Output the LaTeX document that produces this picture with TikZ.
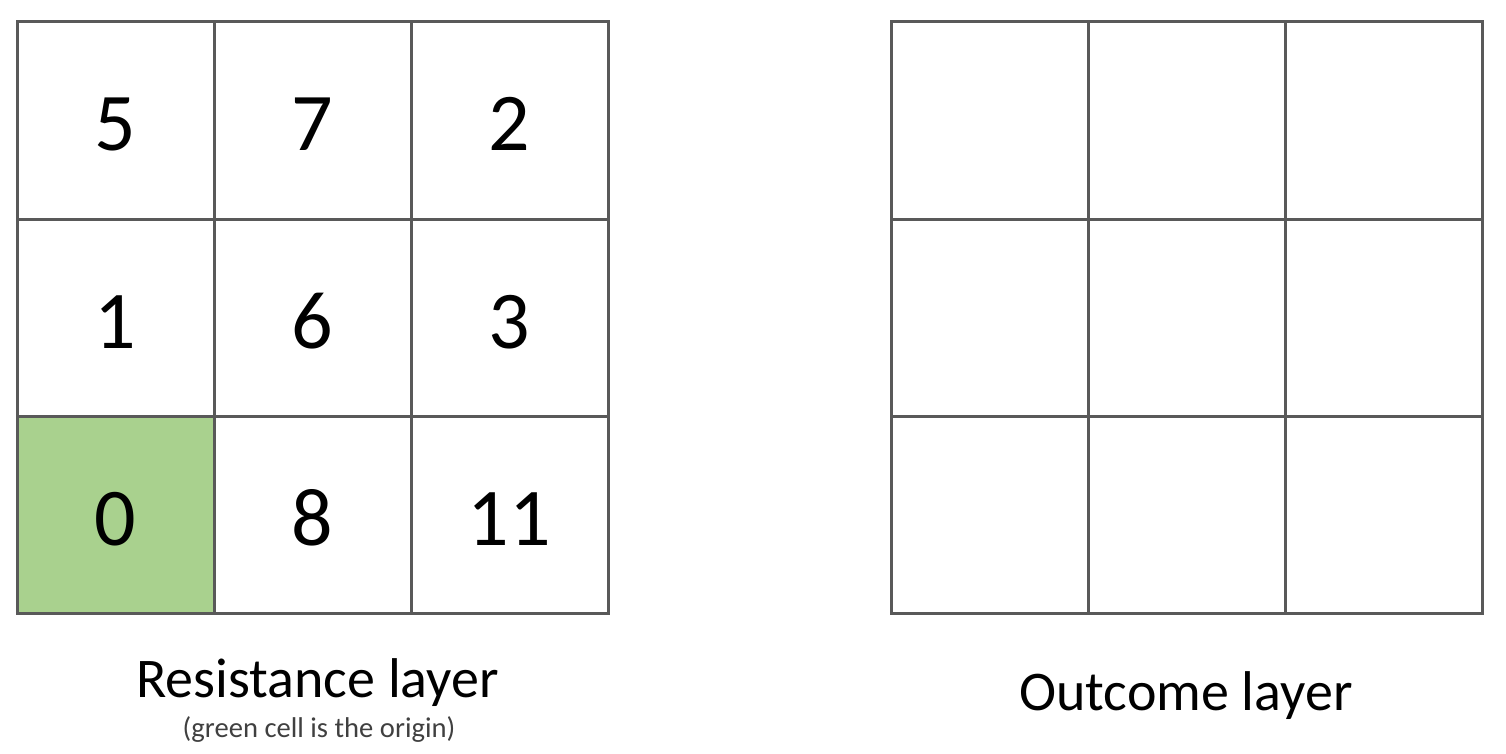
\documentclass[tikz,border=0pt]{standalone}
\usepackage{fontspec}
\setmainfont{Carlito}
\usetikzlibrary{positioning}
\definecolor{gridgray}{HTML}{595959}
\definecolor{origingreen}{HTML}{A9D18E}
\definecolor{notegray}{HTML}{404040}

\begin{document}
\begin{tikzpicture}[x=1pt, y=-1pt,
  cell/.style={draw=gridgray, line width=3pt, minimum size=197pt, inner sep=0pt,
    text height=61pt, text depth=0pt, font=\fontsize{82}{98}\selectfont},
  title/.style={anchor=base, font=\fontsize{56}{67}\selectfont},
  note/.style={anchor=base, text=notegray, font=\fontsize{28.6}{34}\selectfont}]
\useasboundingbox (0,0) rectangle (1506,754);

% resistance layer, green cell is the origin
\foreach \v/\f [count=\k from 0] in {5/white,7/white,2/white,1/white,6/white,3/white,0/origingreen,8/white,11/white}{
  \pgfmathtruncatemacro\col{mod(\k,3)}
  \pgfmathtruncatemacro\row{\k/3}
  \node[cell, fill=\f] (res\k) at (115.5+197*\col, 120.5+197*\row) {\v};
}
\node[title] (restitle) at (317.5,697) {Resistance layer};
\node[note] (resnote) at (319,737) {(green cell is the origin)};

% outcome layer, still empty
\foreach \k in {0,...,8}{
  \pgfmathtruncatemacro\col{mod(\k,3)}
  \pgfmathtruncatemacro\row{\k/3}
  \node[cell] (out\k) at (989.5+197*\col, 120.5+197*\row) {};
}
\node[title] (outtitle) at (1186,710) {Outcome layer};
\end{tikzpicture}
\end{document}
